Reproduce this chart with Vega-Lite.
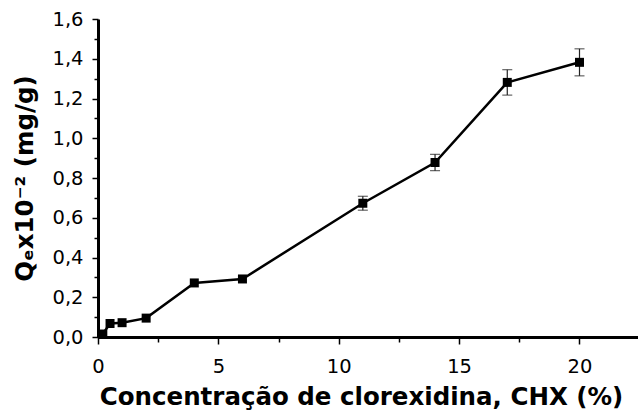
{
  "$schema": "https://vega.github.io/schema/vega-lite/v6.json",
  "width": 540,
  "height": 318,
  "autosize": "none",
  "padding": {"left": 98, "top": 19, "right": 0, "bottom": 74},
  "background": "white",
  "config": {
    "view": {"stroke": null},
    "font": "DejaVu Sans",
    "axis": {
      "grid": false,
      "domainColor": "black",
      "domainWidth": 3,
      "tickColor": "black",
      "tickWidth": 1.5,
      "labelFont": "DejaVu Sans",
      "labelFontSize": 19.5,
      "labelColor": "black",
      "labelFlush": false,
      "labelOverlap": false,
      "titleFont": "DejaVu Sans",
      "titleFontSize": 24.5,
      "titleFontWeight": "bold",
      "titleColor": "black"
    }
  },
  "data": {
    "values": [
      {"chx": 0.2, "q": 0.015, "err": 0},
      {"chx": 0.5, "q": 0.068, "err": 0},
      {"chx": 1, "q": 0.072, "err": 0},
      {"chx": 2, "q": 0.095, "err": 0},
      {"chx": 4, "q": 0.272, "err": 0},
      {"chx": 6, "q": 0.292, "err": 0},
      {"chx": 11, "q": 0.673, "err": 0.035},
      {"chx": 14, "q": 0.878, "err": 0.041},
      {"chx": 17, "q": 1.281, "err": 0.064},
      {"chx": 20, "q": 1.382, "err": 0.068}
    ]
  },
  "encoding": {
    "x": {
      "field": "chx",
      "type": "quantitative",
      "scale": {"domain": [0, 22.43], "nice": false, "zero": false},
      "axis": {
        "title": "Concentração de clorexidina, CHX (%)",
        "values": [0, 2.5, 5, 7.5, 10, 12.5, 15, 17.5, 20],
        "labelExpr": "datum.value % 5 === 0 ? format(datum.value, 'd') : ''",
        "tickSize": {"condition": {"test": "datum.value % 5 === 0", "value": 7}, "value": 5},
        "labelPadding": 13,
        "titlePadding": 10,
        "titleX": 263
      }
    },
    "y": {
      "field": "q",
      "type": "quantitative",
      "scale": {"domain": [0, 1.6], "nice": false},
      "axis": {
        "title": "Qₑx10⁻² (mg/g)",
        "values": [0, 0.1, 0.2, 0.3, 0.4, 0.5, 0.6, 0.7, 0.8, 0.9, 1.0, 1.1, 1.2, 1.3, 1.4, 1.5, 1.6],
        "labelExpr": "round(datum.value * 10) % 2 === 0 ? replace(format(datum.value, '.1f'), '.', ',') : ''",
        "tickSize": {"condition": {"test": "round(datum.value * 10) % 2 === 0", "value": 6}, "value": 4},
        "labelPadding": 9,
        "titlePadding": 14
      }
    }
  },
  "layer": [
    {
      "mark": {"type": "line", "color": "black", "strokeWidth": 2.5}
    },
    {
      "transform": [{"filter": "datum.err > 0"}],
      "mark": {
        "type": "errorbar",
        "color": "#222222",
        "thickness": 1.2,
        "ticks": {"size": 10, "thickness": 1.2, "color": "#222222"}
      },
      "encoding": {
        "yError": {"field": "err"}
      }
    },
    {
      "mark": {"type": "square", "color": "black", "size": 81, "opacity": 1, "filled": true}
    },
    {
      "data": {"values": [{}]},
      "mark": {"type": "rule", "color": "black", "strokeWidth": 3},
      "encoding": {
        "x": {"datum": 0, "type": "quantitative"},
        "x2": {"datum": 22.43},
        "y": {"datum": 1.6, "type": "quantitative"}
      }
    }
  ]
}
